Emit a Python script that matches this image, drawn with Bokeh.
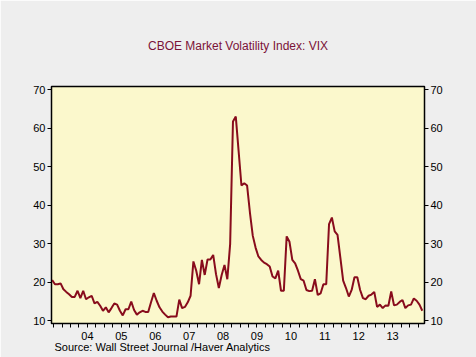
from bokeh.plotting import figure
from bokeh.models import Range1d, LinearAxis, FixedTicker, Title
from bokeh.embed import file_html
from bokeh.resources import INLINE

# Monthly VIX averages, June 2003 .. May 2014
start_year = 2003
start_month = 6
vix = [
    20.6, 19.5, 19.5, 19.7, 18.2, 17.5, 16.9, 16.2, 16.2, 17.8,
    15.9, 17.8, 15.6, 16.1, 16.5, 14.5, 14.9, 13.9, 12.6, 13.5,
    12.2, 13.3, 14.5, 14.2, 12.6, 11.4, 13.0, 13.0, 15.0, 12.8,
    11.6, 12.2, 12.6, 12.3, 12.3, 14.8, 17.2, 15.2, 13.5, 12.4,
    11.6, 10.9, 11.1, 11.1, 11.1, 15.5, 13.3, 13.6, 14.8, 16.5,
    25.4, 23.0, 19.5, 25.8, 21.9, 25.9, 25.9, 27.1, 22.1, 18.5,
    21.9, 24.5, 20.8, 29.9, 61.7, 63.0, 54.0, 45.1, 45.7, 45.1,
    38.1, 32.1, 29.0, 26.7, 25.8, 25.1, 24.7, 24.1, 21.5, 21.0,
    23.0, 17.8, 17.8, 31.9, 30.5, 25.8, 24.9, 23.0, 20.8, 20.4,
    18.0, 17.7, 17.8, 20.8, 16.7, 17.1, 19.5, 19.5, 35.1, 36.8,
    33.2, 32.3, 26.4, 20.4, 18.5, 16.3, 18.0, 21.3, 21.3, 18.0,
    15.9, 15.6, 16.5, 16.8, 17.5, 13.6, 14.2, 13.3, 14.0, 13.9,
    17.6, 14.0, 14.2, 14.9, 15.4, 13.3, 14.0, 14.2, 15.8, 15.2,
    14.2, 12.6,
]
year_labels = ["04", "05", "06", "07", "08", "09", "10", "11", "12", "13"]
label_years = [2004, 2005, 2006, 2007, 2008, 2009, 2010, 2011, 2012, 2013]
y_ticks = [10, 20, 30, 40, 50, 60, 70]

# decimal-year position of each month (mid-month)
xs = [start_year + (start_month - 1 + k + 0.5) / 12.0 for k in range(len(vix))]

BG = "#EEEEEE"
PLOT_BG = "#FBF8CC"
LINE = "#880C1C"
FONT = "Liberation Sans"

p = figure(width=476, height=357, output_backend="svg", toolbar_location=None,
           x_range=Range1d(2003.44, 2014.44), y_range=Range1d(9.3, 70.8),
           min_border_left=51, min_border_right=52, min_border_top=86,
           min_border_bottom=34, y_axis_location=None, x_axis_location=None)
p.background_fill_color = PLOT_BG
p.border_fill_color = BG
p.outline_line_color = "black"
p.outline_line_width = 1.5
p.xgrid.visible = False
p.ygrid.visible = False

p.title.text = "CBOE Market Volatility Index: VIX"
p.title.align = "center"
p.title.text_font = FONT
p.title.text_font_size = "12px"
p.title.text_font_style = "normal"
p.title.text_color = "#7B1238"
p.title.standoff = 67

p.line(xs, vix, line_color=LINE, line_width=2)

def style_y(ax):
    ax.ticker = FixedTicker(ticks=y_ticks)
    ax.axis_line_color = "black"
    ax.major_tick_line_color = "black"
    ax.major_tick_in = 0
    ax.major_tick_out = 4
    ax.minor_tick_line_color = None
    ax.major_label_standoff = 2
    ax.major_label_text_font = FONT
    ax.major_label_text_font_size = "11px"
    ax.major_label_text_color = "black"

yl = LinearAxis()
style_y(yl)
p.add_layout(yl, "left")
yr = LinearAxis()
style_y(yr)
p.add_layout(yr, "right")

quarters = [2003.5, 2003.75] + [y + q / 4.0 for y in range(2004, 2015) for q in range(4)]
quarters = [q for q in quarters if q < 2014.44]
mids = [y + 0.5 for y in label_years]
xb = LinearAxis(ticker=FixedTicker(ticks=mids, minor_ticks=quarters))
xb.major_label_overrides = {m: lab for m, lab in zip(mids, year_labels)}
xb.axis_line_color = "black"
xb.major_tick_in = 0
xb.major_tick_out = 0
xb.minor_tick_in = 0
xb.minor_tick_out = 4
xb.minor_tick_line_color = "black"
xb.major_label_standoff = 4
xb.major_label_text_font = FONT
xb.major_label_text_font_size = "11px"
xb.major_label_text_color = "black"
p.add_layout(xb, "below")

src = Title(text="Source:  Wall Street Journal /Haver Analytics", align="left",
            text_font=FONT, text_font_size="11px", text_font_style="normal",
            text_color="black", offset=3, standoff=-7)
p.add_layout(src, "below")

html = file_html(p, INLINE)
html = html.replace("<body>", '<body style="background:#EEEEEE">', 1)
open("out.html", "w").write(html)
